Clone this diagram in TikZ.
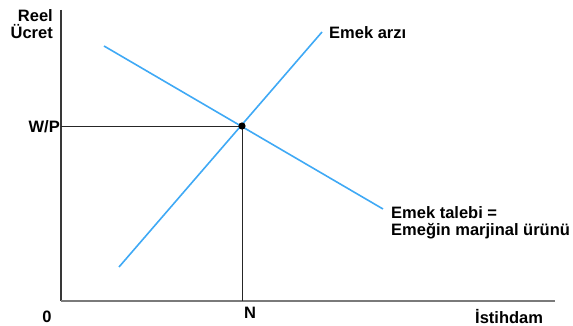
\documentclass[tikz,border=0pt]{standalone}
\usepackage{fontspec}
\setmainfont{Liberation Sans}
\usetikzlibrary{positioning}
\definecolor{curveblue}{HTML}{3FA9F5}
\definecolor{axisgray}{HTML}{7A7A7A}
\definecolor{axisdark}{HTML}{383838}

\begin{document}
\begin{tikzpicture}[
  x=1pt, y=-1pt,
  yaxis/.style={axisdark, line width=1.2pt},
  xaxis/.style={axisgray, line width=1.8pt},
  guide/.style={black!85, line width=0.9pt},
  curve/.style={curveblue, line width=1.6pt},
  lbl/.style={font=\fontsize{16.5}{17}\selectfont\bfseries, inner sep=0pt},
]

% Background / bounding box
\useasboundingbox (0,0) rectangle (573,326);

% === Axes ===
\coordinate (origin) at (61,301);
\coordinate (ytop) at (61,10);
\coordinate (xend) at (555,301);
\draw[yaxis] (ytop) -- (origin);
\draw[xaxis] (origin) -- (xend);

% === Equilibrium ===
\coordinate (eq) at (242,126);
\coordinate (wp) at (61,126);
\coordinate (nfoot) at (242,301);
\draw[guide] (wp) -- (eq) -- (nfoot);

% === Curves ===
\coordinate (supA) at (119,267);
\coordinate (supB) at (322,32);
\coordinate (demA) at (104,46);
\coordinate (demB) at (383,209);
\draw[curve] (supA) -- (supB);
\draw[curve] (demA) -- (demB);
\fill (eq) circle (3.6pt);

% === Labels ===
\node[lbl, align=right, anchor=north east] (ylab) at (53,9) {Reel\\Ücret};
\node[lbl, anchor=base east] (wplab) at (60,133) {W/P};
\node[lbl, anchor=base] (zero) at (47,322) {0};
\node[lbl, anchor=base] (nlab) at (250,318) {N};
\node[lbl, anchor=base west] (xlab) at (475,323) {İstihdam};
\node[lbl, anchor=base west] (suplab) at (329,39) {Emek arzı};
\node[lbl, align=left, anchor=north west] (demlab) at (391,206)
  {Emek talebi =\\Emeğin marjinal ürünü};

\end{tikzpicture}
\end{document}
